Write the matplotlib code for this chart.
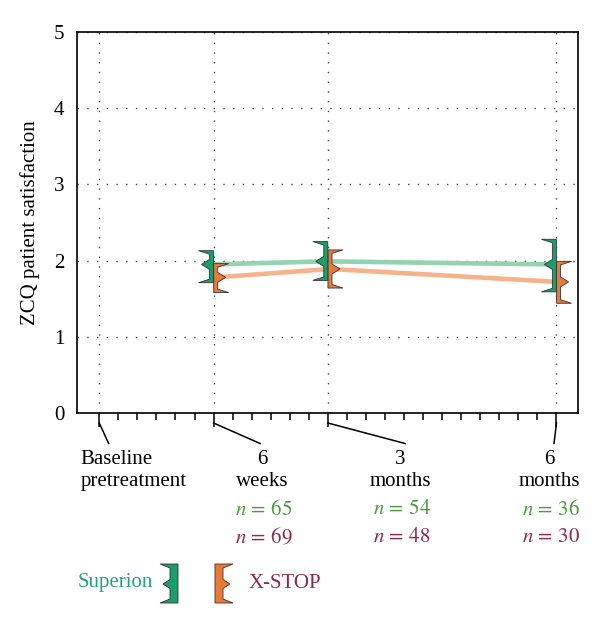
import numpy as np
import matplotlib
matplotlib.use("Agg")
import matplotlib.pyplot as plt
from matplotlib.patches import Polygon

plt.rcParams['font.family'] = ['Liberation Serif', 'DejaVu Serif']
plt.rcParams['mathtext.fontset'] = 'stix'

# time points in weeks after treatment
weeks = [6, 12, 24]
time_labels = ["Baseline\npretreatment", "6\nweeks", "3\nmonths", "6\nmonths"]
label_weeks = [0, 6, 12, 24]

# ZCQ satisfaction, mean and interval
superion_mean = [1.95, 1.99, 1.95]
superion_lo = [1.71, 1.74, 1.59]
superion_hi = [2.13, 2.25, 2.28]
superion_n = [65, 54, 36]

xstop_mean = [1.78, 1.89, 1.72]
xstop_lo = [1.58, 1.64, 1.44]
xstop_hi = [1.96, 2.14, 1.99]
xstop_n = [69, 48, 30]

green_bar = '#1a9e6b'
orange_bar = '#e8793a'
green_line = '#93d2b3'
orange_line = '#f5b38c'
green_txt = '#4b9a3c'
purple_txt = '#8a2a50'
edge = '#333333'
fs = 15

W, H = 600, 623
fig = plt.figure(figsize=(W / 100, H / 100), dpi=100)
ax = fig.add_axes([77 / W, 1 - 413 / H, (578 - 77) / W, (413 - 32) / H])
ax.set_xlim(-1.17, 25.13)
ax.set_ylim(0, 5)

# pixel -> data conversion
sx = (25.13 + 1.17) / (578 - 77)
sy = 5 / (413 - 32)


def bracket(x, lo, mid, hi, side, color, sx, sy, w=4, L=11, ct=3.5, nl=8, nh=5, **kw):
    # side = -1: caps point left, side = +1: caps point right
    d = side
    xo = x + d * w * sx          # outer edge of bar
    tip = xo + d * L * sx
    ntip = xo + d * nl * sx
    verts = [(x, hi), (tip, hi), (xo, hi - ct * sy), (xo, mid + nh * sy),
             (ntip, mid), (xo, mid - nh * sy), (xo, lo + ct * sy), (tip, lo), (x, lo)]
    return Polygon(verts, closed=True, facecolor=color, edgecolor=edge, linewidth=0.6, **kw)


# lines
off = 2 * sx
ax.plot(np.array(weeks) - off, superion_mean, color=green_line, lw=3.3, solid_capstyle='butt', zorder=3)
ax.plot(np.array(weeks) + off, xstop_mean, color=orange_line, lw=3.3, solid_capstyle='butt', zorder=3)

for i, wk in enumerate(weeks):
    ax.add_patch(bracket(wk + 0.1 * sx, xstop_lo[i], xstop_mean[i], xstop_hi[i], 1, orange_bar, sx, sy, zorder=4))
    ax.add_patch(bracket(wk - 0.1 * sx, superion_lo[i], superion_mean[i], superion_hi[i], -1, green_bar, sx, sy, zorder=5))

# grid and ticks
ax.set_xticks(label_weeks)
ax.set_xticks(range(0, 25), minor=True)
ax.set_yticks(range(0, 6))
ax.grid(True, which='major', color='#444444', linestyle=(0, (1, 6)), linewidth=1.0)
ax.set_axisbelow(True)
ax.tick_params(axis='x', which='major', direction='out', length=10, width=1.1, labelbottom=False)
ax.tick_params(axis='x', which='minor', direction='out', length=5, width=1.1)
ax.tick_params(axis='y', length=0, pad=9, labelsize=fs)
for s in ax.spines.values():
    s.set_linewidth(1.2)

ax.set_ylabel('ZCQ patient satisfaction', fontsize=fs, labelpad=10)

# slanted connectors from major ticks to labels
conn_end = [0.49, 8.44, 16.05, 23.87]
for wk, xe in zip(label_weeks, conn_end):
    ax.plot([wk, xe], [-10 * sy, -30.5 * sy], color='black', lw=1.1, clip_on=False)

ax.text(-0.99, -37 * sy, time_labels[0], ha='left', va='top', fontsize=fs, linespacing=1.2)
label_x = [8.54, 15.8, 23.6]
for xl, t in zip(label_x, time_labels[1:]):
    ax.text(xl, -37 * sy, t, ha='center', va='top', fontsize=fs, linespacing=1.2)

for i, xl in enumerate(label_x):
    ax.text(xl + 0.1, -97 * sy, r'$n\,=\,%d$' % superion_n[i], ha='center', va='center',
            fontsize=fs, color=green_txt)
    ax.text(xl + 0.1, -125 * sy, r'$n\,=\,%d$' % xstop_n[i], ha='center', va='center',
            fontsize=fs, color=purple_txt)

# legend
fig.text(78 / W, 1 - 583 / H, 'Superion', color='#22a27a', fontsize=fs, ha='left', va='center')
fig.text(249 / W, 1 - 583 / H, 'X-STOP', color=purple_txt, fontsize=fs, ha='left', va='center')
fx, fy = 1 / W, 1 / H
ylo, ymid, yhi = 1 - 603 / H, 1 - 584 / H, 1 - 564 / H
fig.patches.append(bracket(178 / W, ylo, ymid, yhi, -1, green_bar, fx, fy, w=8, L=10, ct=4, nl=7, nh=4.5,
                           transform=fig.transFigure, figure=fig))
fig.patches.append(bracket(215 / W, ylo, ymid, yhi, 1, orange_bar, fx, fy, w=8, L=10, ct=4, nl=7, nh=4.5,
                           transform=fig.transFigure, figure=fig))

fig.savefig('out.png', dpi=100)
